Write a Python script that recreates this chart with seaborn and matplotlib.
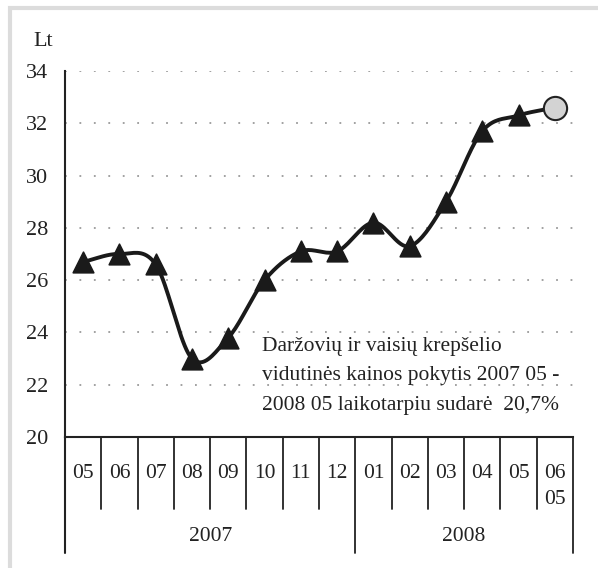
import numpy as np
import pandas as pd
import matplotlib
matplotlib.use('Agg')
import matplotlib.pyplot as plt
import seaborn as sns
from matplotlib.patches import Rectangle

months = ['05', '06', '07', '08', '09', '10', '11', '12',
          '01', '02', '03', '04', '05', '06\n05']
years = ['2007', '2008']
year_months = [8, 6]
prices = [26.7, 27.0, 26.6, 23.0, 23.8, 26.0, 27.1, 27.1,
          28.2, 27.3, 29.0, 31.7, 32.3, 32.6]
note = ('Daržovių ir vaisių krepšelio\n'
        'vidutinės kainos pokytis 2007 05 -\n'
        '2008 05 laikotarpiu sudarė  20,7%')


def smooth(x, y, n=20):
    # Catmull-Rom smoothing like the Excel "smoothed line" option
    x = np.asarray(x, float)
    y = np.asarray(y, float)
    px = np.concatenate([[2 * x[0] - x[1]], x, [2 * x[-1] - x[-2]]])
    py = np.concatenate([[2 * y[0] - y[1]], y, [2 * y[-1] - y[-2]]])
    t = np.linspace(0, 1, n, endpoint=False)
    xs, ys = [], []
    for i in range(1, len(px) - 2):
        for p, out in ((px, xs), (py, ys)):
            p0, p1, p2, p3 = p[i - 1], p[i], p[i + 1], p[i + 2]
            out.extend(0.5 * (2 * p1 + (-p0 + p2) * t
                              + (2 * p0 - 5 * p1 + 4 * p2 - p3) * t ** 2
                              + (-p0 + 3 * p1 - 3 * p2 + p3) * t ** 3))
    xs.append(x[-1])
    ys.append(y[-1])
    return np.array(xs), np.array(ys)


sns.set_style('white')
plt.rcParams['font.family'] = ['Liberation Serif', 'DejaVu Serif']
ink = '#222222'
fs = 15.5

df = pd.DataFrame({'pos': np.arange(len(prices)), 'price': prices})
sx, sy = smooth(df['pos'], df['price'])
curve = pd.DataFrame({'pos': sx, 'price': sy})

fig = plt.figure(figsize=(5.98, 5.68), dpi=100)
ax = fig.add_axes([65 / 598, 1 - 437 / 568, 508 / 598, 366 / 568])

# grey frame around the picture
fig.patches.append(Rectangle((10 / 598, -0.1), 1.2, 1 - 8 / 568 + 0.1,
                             transform=fig.transFigure, fill=False,
                             edgecolor='#dcdcdc', linewidth=3))

for v in range(22, 35, 2):
    ax.axhline(v, color='#9a9a9a', linewidth=1.3, dashes=(1, 7), zorder=0)

sns.lineplot(data=curve, x='pos', y='price', ax=ax, color='#1a1a1a',
             linewidth=2.8, sort=False, zorder=2)
sns.scatterplot(data=df.iloc[:-1], x='pos', y='price', ax=ax, marker='^',
                s=220, color='#1a1a1a', edgecolor='#1a1a1a', zorder=3)
sns.scatterplot(data=df.iloc[-1:], x='pos', y='price', ax=ax, marker='o',
                s=280, color='#d3d3d3', edgecolor=ink, linewidth=1.5,
                zorder=4)

ax.set_xlim(-0.5, len(prices) - 0.5)
ax.set_ylim(20, 34)
ax.set_yticks(range(20, 35, 2))
ax.set_xticks([])
ax.set_xlabel('')
ax.set_ylabel('')
ax.tick_params(axis='y', direction='out', length=5, width=1.2, color=ink,
               labelsize=16, labelcolor=ink, pad=7)
sns.despine(ax=ax, top=True, right=True)
for side in ('left', 'bottom'):
    ax.spines[side].set_color(ink)
    ax.spines[side].set_linewidth(1.5)

# category table under the axis
trans = ax.get_xaxis_transform()
lw = 1.3
ax.plot([-0.5, -0.5], [0, -0.317], transform=trans, color=ink,
        linewidth=1.5, clip_on=False)
ax.plot([len(prices) - 0.5] * 2, [0, -0.317], transform=trans,
        color=ink, linewidth=lw, clip_on=False)
for i in range(1, len(prices)):
    bottom = -0.317 if i == year_months[0] else -0.197
    ax.plot([i - 0.5, i - 0.5], [0, bottom], transform=trans,
            color=ink, linewidth=lw, clip_on=False)
for i, m in enumerate(months):
    ax.text(i, -0.073, m, transform=trans, ha='center', va='top',
            fontsize=fs, color=ink, linespacing=1.5, clip_on=False)
start = 0
for y, n in zip(years, year_months):
    ax.text(start + n / 2 - 0.5, -0.273, y, transform=trans, ha='center',
            va='center', fontsize=fs, color=ink)
    start += n

ax.text(4.93, 22.35, note, ha='left', va='center', fontsize=fs,
        color=ink, linespacing=1.75)
fig.text(33 / 598, 1 - 41 / 568, 'Lt', ha='left', va='center', fontsize=16,
         color=ink)

fig.savefig('out.png', dpi=100)
